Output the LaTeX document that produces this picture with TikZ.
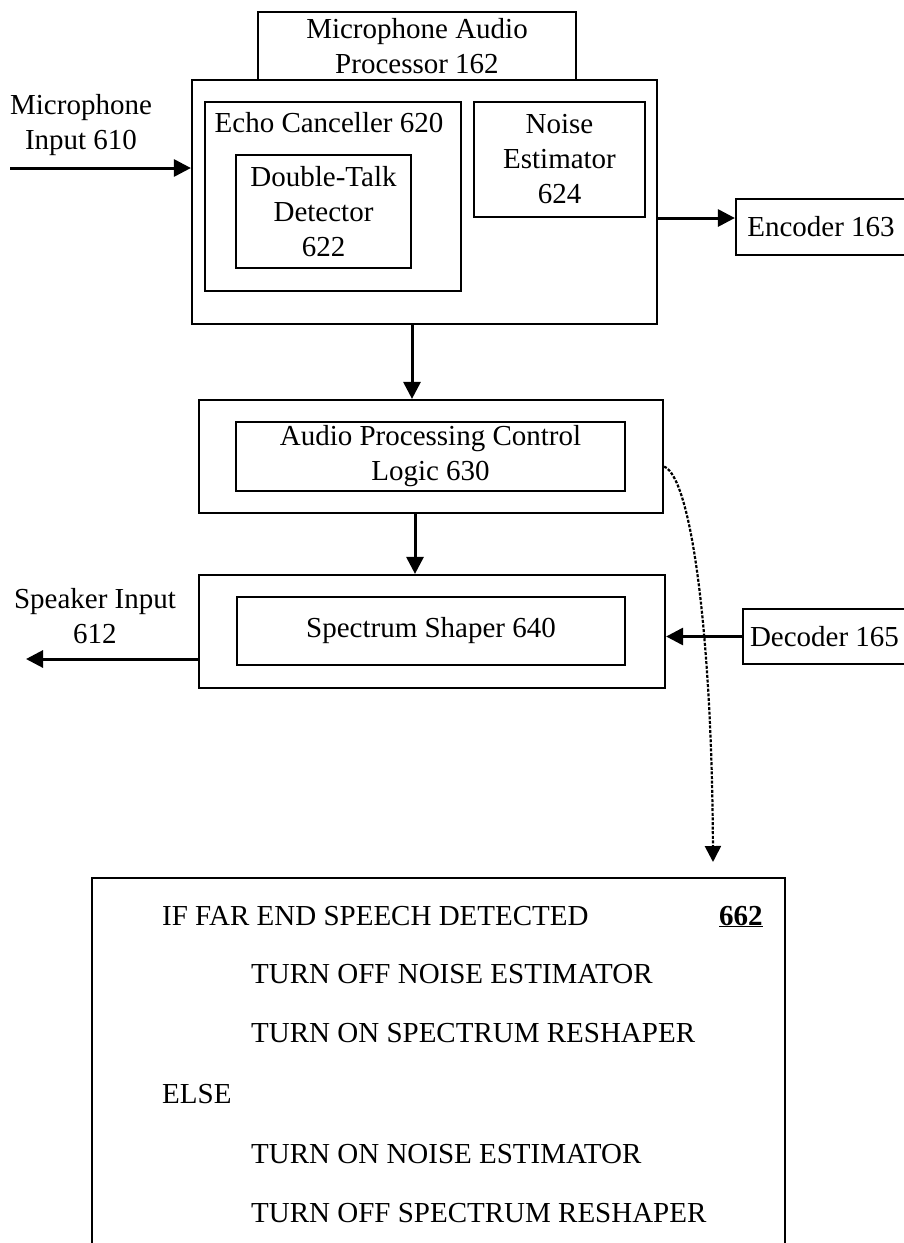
\documentclass[tikz,border=0pt]{standalone}
\usepackage{fontspec}
\setmainfont{Liberation Serif}
\usetikzlibrary{arrows.meta}
\newcommand\diafont{\fontsize{29}{35}\selectfont}
\begin{document}
\begin{tikzpicture}[x=1pt,y=-1pt,
  box/.style={draw,line width=2.2pt,inner sep=0pt,align=center,font=\diafont},
  lbl/.style={inner sep=0pt,align=center,font=\diafont},
  codeline/.style={inner sep=0pt,anchor=base west,font=\diafont},
  arr/.style={line width=3pt,-{Triangle[length=17pt,width=17pt]}},
  dotarr/.style={line width=2.2pt,dash pattern=on 3pt off 1.6pt,-{Triangle[length=16pt,width=16pt]}}]
\useasboundingbox (0,0) rectangle (904,1243);
% top block
\node[box,minimum width=318pt,minimum height=68pt] (map) at (417,46) {Microphone Audio\\Processor 162};
\node[box,minimum width=465pt,minimum height=244pt] (big) at (424.5,202) {};
\node[box,minimum width=256pt,minimum height=189pt] (echo) at (333,196.5) {};
\node[lbl] (echolbl) at (329,123) {Echo Canceller 620};
\node[box,minimum width=175pt,minimum height=113pt] (dtd) at (323.5,211.5) {Double-Talk\\Detector\\622};
\node[box,minimum width=171pt,minimum height=115pt] (noise) at (559.5,159.5) {Noise\\Estimator\\624};
\node[box,minimum width=170pt,minimum height=56pt] (enc) at (821,227) {Encoder 163};
\node[lbl] (micl) at (81,125) {Microphone\\Input 610};
\coordinate (micstart) at (10,168);
\draw[arr] (micstart) -- (micstart -| big.west);
\draw[arr] ([yshift=9pt]enc.west -| big.east) -- ([yshift=9pt]enc.west);
% control logic
\node[box,minimum width=464pt,minimum height=113pt] (apo) at (431,456.5) {};
\node[box,minimum width=389pt,minimum height=69pt] (api) at (430.5,456.5) {Audio Processing Control\\Logic 630};
\draw[arr] ([xshift=-12.5pt]big.south) -- ([xshift=-12.5pt]big.south |- apo.north);
% spectrum shaper
\node[box,minimum width=466pt,minimum height=113pt] (spo) at (432,631.5) {};
\node[box,minimum width=388pt,minimum height=68pt] (spi) at (431,631) {Spectrum Shaper 640};
\draw[arr] ([xshift=-16pt]apo.south) -- ([xshift=-16pt]apo.south |- spo.north);
\node[lbl] (spkl) at (95,616) {Speaker Input\\612};
\coordinate (spkend) at (26,659);
\draw[arr] (spo.west |- spkend) -- (spkend);
\node[box,minimum width=163pt,minimum height=55pt] (dec) at (824.5,636.5) {Decoder 165};
\draw[arr] (dec.west) -- (dec.west -| spo.east);
% dotted connector
\coordinate (tip) at (713,862);
\draw[dotarr] ([yshift=-10pt]apo.east) .. controls (692,478) and (712,640) .. (tip);
% code box
\node[box,minimum width=693pt,minimum height=392pt] (code) at (438.5,1074) {};
\node[codeline] (c1) at (162,925) {IF FAR END SPEECH DETECTED};
\node[codeline] (c0) at (719,925) {\underline{\textbf{662}}};
\node[codeline] (c2) at (251,983) {TURN OFF NOISE ESTIMATOR};
\node[codeline] (c3) at (251,1042) {TURN ON SPECTRUM RESHAPER};
\node[codeline] (c4) at (162,1103) {ELSE};
\node[codeline] (c5) at (251,1163) {TURN ON NOISE ESTIMATOR};
\node[codeline] (c6) at (251,1222) {TURN OFF SPECTRUM RESHAPER};
\end{tikzpicture}
\end{document}
